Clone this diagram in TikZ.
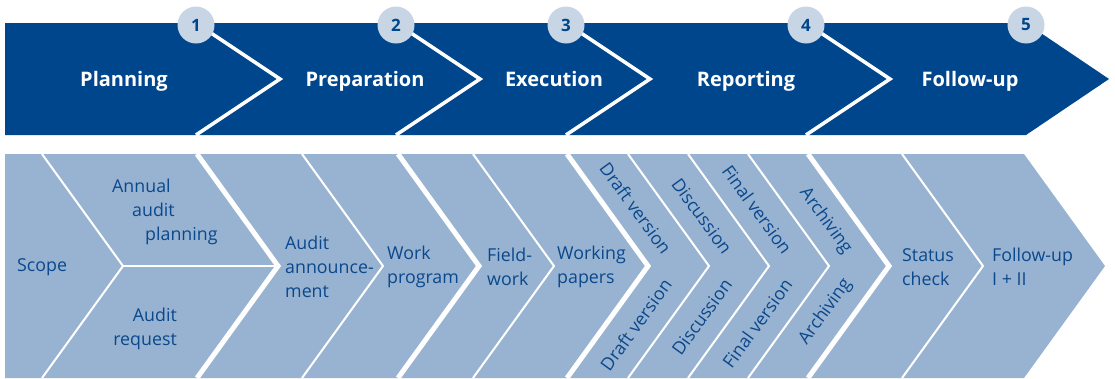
\documentclass[tikz,border=0pt]{standalone}
\usepackage{fontspec}
\setmainfont{Open Sans}
\definecolor{audark}{RGB}{0,70,140}
\definecolor{aulight}{RGB}{152,179,209}
\definecolor{aucircle}{RGB}{200,213,228}
\definecolor{autext}{RGB}{10,72,140}
\usetikzlibrary{positioning}

\begin{document}
\begin{tikzpicture}[
  x=1pt,y=-1pt,
  phase/.style={font=\fontsize{20}{22}\selectfont\bfseries,text=white,inner sep=0pt,anchor=base},
  stepnum/.style={circle,fill=aucircle,minimum size=37pt,inner sep=0pt,
                  font=\fontsize{17}{20}\selectfont\bfseries,text=audark},
  task/.style={font=\fontsize{17.8}{24}\selectfont,text=autext,align=left,inner sep=0pt},
  thinsep/.style={white,line width=2pt},
  thicksep/.style={white,line width=5pt},
  phasesep/.style={white,line width=3.5pt},
]
  \useasboundingbox (0,0) rectangle (1115,378);

  % Phase band (top)
  \fill[audark] (5,23) -- (1026,23) -- (1109,79) -- (1026,135) -- (5,135) -- cycle;
  \begin{scope}
    \clip (5,23) rectangle (1109,135);
    \foreach \x in {196,396,566,806}
      \draw[phasesep] (\x,23) -- ++(84,56) -- ++(-84,56);
  \end{scope}
  \foreach \x/\n in {196/1,396/2,566/3,806/4,1026/5}
    \node[stepnum] (num\n) at (\x,25) {\n};
  \node[phase] (planning) at (124,86) {Planning};
  \node[phase] (preparation) at (365,86) {Preparation};
  \node[phase] (execution) at (554,86) {Execution};
  \node[phase] (reporting) at (746,86) {Reporting};
  \node[phase] (followup) at (970,86) {Follow-up};

  % Task band (bottom)
  \fill[aulight] (5,154) -- (1024,154) -- (1105,266) -- (1024,378) -- (5,378) -- cycle;
  \begin{scope}
    \clip (5,154) rectangle (1105,378);
    \foreach \x in {42,302,473,628,688,748,902}
      \draw[thinsep] (\x,154) -- ++(81,112) -- ++(-81,112);
    \foreach \x in {197,398,567,808}
      \draw[thicksep] (\x,154) -- ++(81,112) -- ++(-81,112);
    \draw[thinsep] (123,266) -- (278,266);
  \end{scope}

  % Task labels
  \node[task,anchor=west] (scope) at (17,267) {Scope};
  \node[task,anchor=west] (annual) at (112,212) {Annual\\\hspace*{20pt}audit\\\hspace*{33pt}planning};
  \node[task,anchor=east,align=right] (request) at (177,329) {Audit\\request};
  \node[task,anchor=west] (announce) at (285,267) {Audit\\announce-\\ment};
  \node[task,anchor=west] (workprog) at (387,267) {Work\\program};
  \node[task,anchor=west] (fieldwork) at (487,267) {Field-\\work};
  \node[task,anchor=west] (papers) at (557,267) {Working\\papers};
  \node[task,anchor=west] (status) at (902,267) {Status\\check};
  \node[task,anchor=west] (follow) at (992,267) {Follow-up\\I + II};

  % Slanted report labels
  \foreach \a/\b/\t/\n in {567/628/Draft version/draft,628/688/Discussion/disc,
                           688/748/Final version/final,748/808/Archiving/arch}{
    \node[task,rotate=-54,anchor=east] (\n-up) at ({(\a+\b)/2+70},252) {\t};
    \node[task,rotate=54,anchor=east] (\n-low) at ({(\a+\b)/2+70},281) {\t};
  }
\end{tikzpicture}
\end{document}
